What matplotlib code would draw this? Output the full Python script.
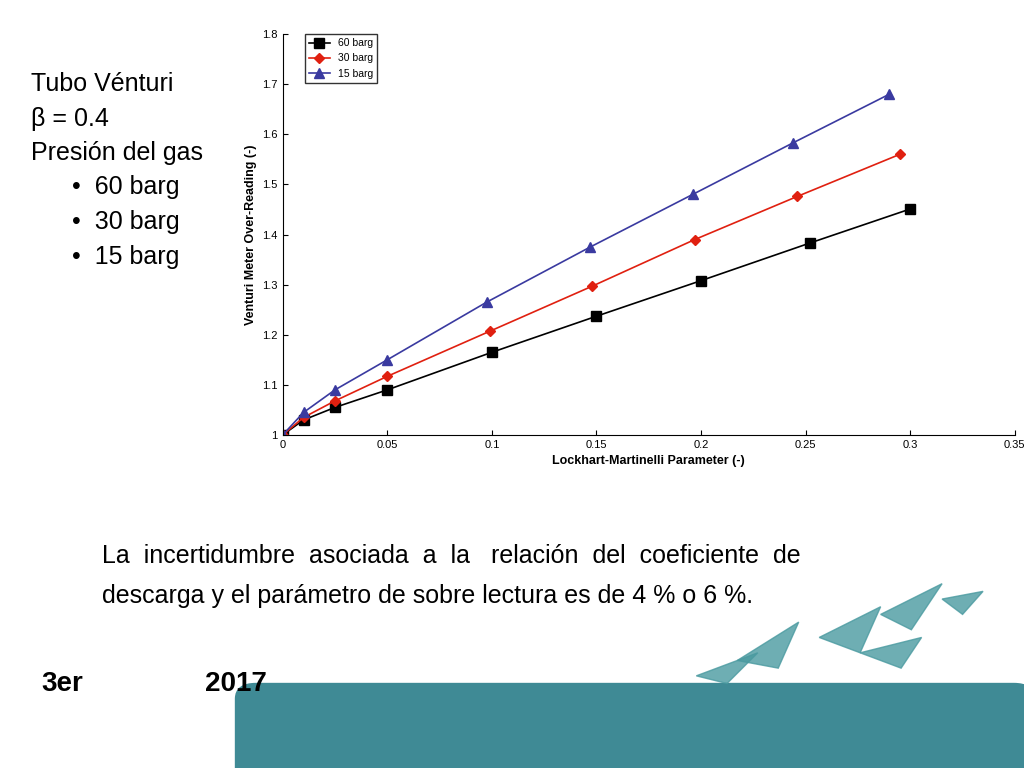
import matplotlib
matplotlib.use("Agg")
import matplotlib.pyplot as plt
from matplotlib.patches import FancyBboxPatch, Polygon

x60 = [0, 0.01, 0.025, 0.05, 0.1, 0.15, 0.2, 0.252, 0.3]
y60 = [1.0, 1.03, 1.055, 1.09, 1.165, 1.237, 1.308, 1.383, 1.451]
x30 = [0, 0.01, 0.025, 0.05, 0.099, 0.148, 0.197, 0.246, 0.295]
y30 = [1.0, 1.035, 1.068, 1.117, 1.207, 1.297, 1.39, 1.476, 1.56]
x15 = [0, 0.01, 0.025, 0.05, 0.0975, 0.147, 0.196, 0.244, 0.29]
y15 = [1.0, 1.045, 1.09, 1.15, 1.265, 1.375, 1.48, 1.583, 1.68]
labels = ["60 barg", "30 barg", "15 barg"]

plt.rcParams['font.family'] = ['Liberation Sans', 'DejaVu Sans']
fig = plt.figure(figsize=(10.24, 7.68), dpi=100)
ax = fig.add_axes([0.276, 0.4336, 0.715, 0.522])
ax.plot(x60, y60, color="black", marker="s", ms=7, lw=1.2, label=labels[0])
ax.plot(x30, y30, color="#e02010", marker="D", ms=5, lw=1.2, label=labels[1])
ax.plot(x15, y15, color="#3a3aa0", marker="^", ms=7, lw=1.2, label=labels[2])
ax.set_xlim(0, 0.35)
ax.set_ylim(1.0, 1.8)
ax.set_xticks([0, 0.05, 0.1, 0.15, 0.2, 0.25, 0.3, 0.35])
ax.set_xticklabels(["0", "0.05", "0.1", "0.15", "0.2", "0.25", "0.3", "0.35"])
ax.set_yticks([1, 1.1, 1.2, 1.3, 1.4, 1.5, 1.6, 1.7, 1.8])
ax.set_yticklabels(["1", "1.1", "1.2", "1.3", "1.4", "1.5", "1.6", "1.7", "1.8"])
ax.tick_params(labelsize=8, direction="in")
for s in ["top", "right"]:
    ax.spines[s].set_visible(False)
ax.set_xlabel("Lockhart-Martinelli Parameter (-)", fontsize=9, fontweight="bold")
ax.set_ylabel("Venturi Meter Over-Reading (-)", fontsize=9, fontweight="bold")
ax.legend(loc="upper left", bbox_to_anchor=(0.03, 1.0), fontsize=7.5, frameon=True,
          fancybox=False, edgecolor="black", borderaxespad=0)

fig.text(0.03, 0.89, "Tubo Vénturi", fontsize=18, va="center")
fig.text(0.03, 0.845, "β = 0.4", fontsize=18, va="center")
fig.text(0.03, 0.801, "Presión del gas", fontsize=18, va="center")
for i, l in enumerate(labels):
    fig.text(0.07, 0.756 - i * 0.045, "•  " + l, fontsize=18, va="center")

fig.text(0.1, 0.276, "La  incertidumbre  asociada  a  la   relación  del  coeficiente  de",
         fontsize=18, va="center")
fig.text(0.1, 0.224, "descarga y el parámetro de sobre lectura es de 4 % o 6 %.",
         fontsize=18, va="center")

band = FancyBboxPatch((0.23, -0.02), 0.78, 0.13, boxstyle="round,pad=0,rounding_size=0.02",
                      transform=fig.transFigure, color="#3f8a95", zorder=0)
fig.patches.append(band)
tris = [[(0.72, 0.14), (0.78, 0.19), (0.76, 0.13)], [(0.80, 0.17), (0.86, 0.21), (0.84, 0.15)],
        [(0.86, 0.2), (0.92, 0.24), (0.89, 0.18)], [(0.68, 0.12), (0.74, 0.15), (0.71, 0.11)],
        [(0.88, 0.13), (0.9, 0.17), (0.84, 0.15)], [(0.92, 0.22), (0.96, 0.23), (0.94, 0.2)]]
for t in tris:
    fig.patches.append(Polygon(t, closed=True, transform=fig.transFigure, color="#4a9aa0", alpha=0.8))
fig.text(0.04, 0.1, "3er", fontsize=20, fontweight="bold")
fig.text(0.2, 0.1, "2017", fontsize=20, fontweight="bold")

fig.savefig("out.png", dpi=100)
